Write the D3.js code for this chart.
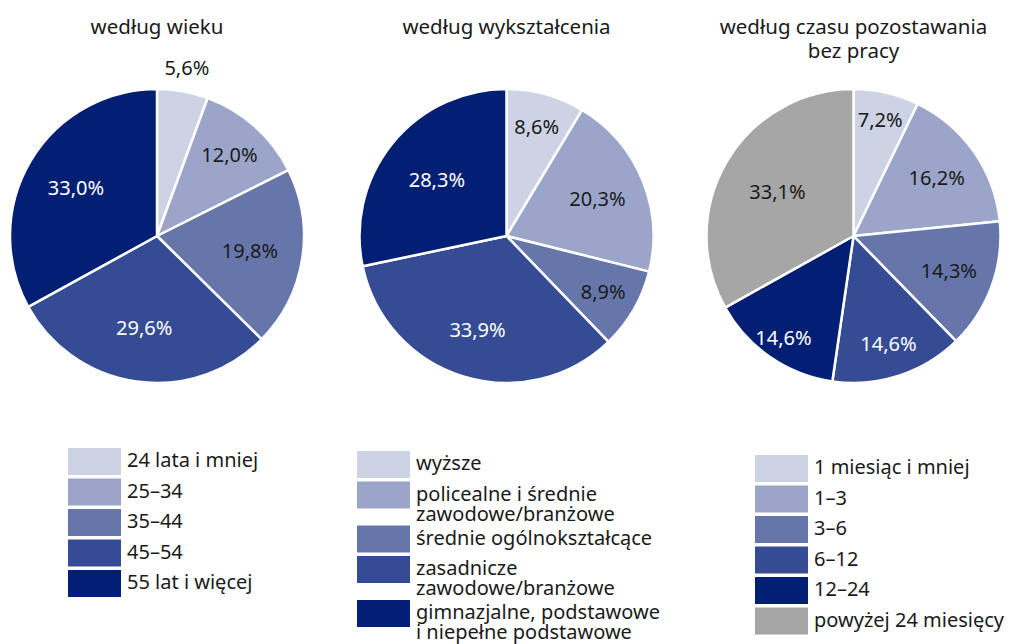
<!DOCTYPE html>
<html><head><meta charset="utf-8">
<script src="https://cdn.jsdelivr.net/npm/d3@7"></script>
<style>
body{margin:0;background:#fff;}
svg{display:block;font-family:"Noto Sans",sans-serif;}
</style></head>
<body><svg id="c" width="1013" height="644"></svg>
<script>
// ---- data ----
const ageTitle = ["według wieku"];
const ageCats = ["24 lata i mniej","25–34","35–44","45–54","55 lat i więcej"];
const ageVals = [5.6,12.0,19.8,29.6,33.0];

const eduTitle = ["według wykształcenia"];
const eduCats = [["wyższe"],["policealne i średnie","zawodowe/branżowe"],["średnie ogólnokształcące"],["zasadnicze","zawodowe/branżowe"],["gimnazjalne, podstawowe","i niepełne podstawowe"]];
const eduVals = [8.6,20.3,8.9,33.9,28.3];

const timeTitle = ["według czasu pozostawania","bez pracy"];
const timeCats = ["1 miesiąc i mniej","1–3","3–6","6–12","12–24","powyżej 24 miesięcy"];
const timeVals = [7.2,16.2,14.3,14.6,14.6,33.1];

const palette = ["#cdd2e5","#9ba5c9","#6676ab","#354b93","#031f74","#a6a6a6"];
const darkText = [false,false,false,true,true,false];

// ---- layout ----
const svg = d3.select("#c");
const R = 147;
const charts = [
  {title:ageTitle, cats:ageCats.map(d=>[d]), vals:ageVals, cx:157, cy:236, lx:68, ly:448,
   lr:[1.16,0.74,0.64,0.63,0.64]},
  {title:eduTitle, cats:eduCats, vals:eduVals, cx:506.5, cy:236, lx:357, ly:451,
   lr:[0.77,0.67,0.76,0.67,0.61]},
  {title:timeTitle, cats:timeCats.map(d=>[d]), vals:timeVals, cx:853.5, cy:236, lx:755, ly:455,
   lr:[0.81,0.69,0.69,0.77,0.84,0.60]}
];
const fmt = v => d3.format(".1f")(v).replace(".", ",") + "%";

charts.forEach(ch => {
  const g = svg.append("g").attr("transform",`translate(${ch.cx},${ch.cy})`);
  const pie = d3.pie().sort(null).value(d=>d);
  const arcs = pie(ch.vals);
  const arc = d3.arc().innerRadius(0).outerRadius(R);

  g.selectAll("path").data(arcs).enter().append("path")
    .attr("d",arc).attr("fill",(d,i)=>palette[i])
    .attr("stroke","#fff").attr("stroke-width",2.5).attr("stroke-linejoin","round");

  g.selectAll("text.lbl").data(arcs).enter().append("text")
    .attr("class","lbl")
    .attr("transform",(d,i)=>{
      const r = R*ch.lr[i];
      const c = d3.arc().innerRadius(r).outerRadius(r).centroid(d);
      return `translate(${c[0]},${c[1]})`;
    })
    .attr("text-anchor","middle").attr("dy","0.36em")
    .attr("font-size",20)
    .attr("fill",(d,i)=> darkText[i] && d.data>=6 ? "#fff" : "#1a1a1a")
    .text(d=>fmt(d.data));

  // title
  const t = svg.append("text").attr("x",ch.cx).attr("y",34)
    .attr("text-anchor","middle").attr("font-size",20.5).attr("fill","#1a1a1a");
  ch.title.forEach((line,i)=>{
    t.append("tspan").attr("x",ch.cx).attr("dy",i===0?0:24).text(line);
  });

  // legend
  let y = ch.ly;
  ch.cats.forEach((lines,i)=>{
    svg.append("rect").attr("x",ch.lx).attr("y",y).attr("width",53).attr("height",27)
      .attr("fill",palette[i]);
    const tx = svg.append("text").attr("x",ch.lx+59).attr("y",y+19)
      .attr("font-size",20).attr("fill","#1a1a1a");
    lines.forEach((ln,j)=>{
      tx.append("tspan").attr("x",ch.lx+59).attr("dy",j===0?0:20).text(ln);
    });
    const h = Math.max(27, lines.length*20);
    y += h + (lines.length>1 ? 4 : 3.5);
  });
});
</script></body></html>
